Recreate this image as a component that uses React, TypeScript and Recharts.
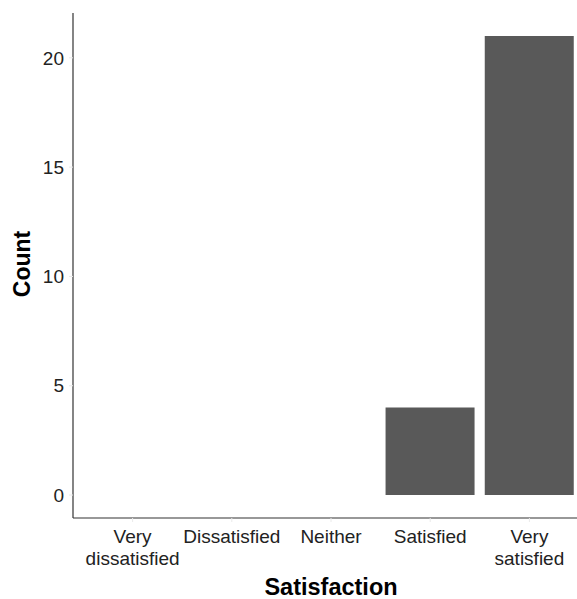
import { BarChart, Bar, XAxis, YAxis, Label } from "recharts";

const categories = [
  "Very dissatisfied",
  "Dissatisfied",
  "Neither",
  "Satisfied",
  "Very satisfied",
];
const counts = [0, 0, 0, 4, 21];
const yTicks = [0, 5, 10, 15, 20];

const data = categories.map((c, i) => ({ name: c, count: counts[i] }));

const FONT = '"Liberation Sans", Arial, sans-serif';

// ggplot-style wrapped tick labels: "Very ..." goes on two lines
function XTick(props: any) {
  const { x, y, payload } = props;
  const v: string = payload.value;
  const lines = v.startsWith("Very ") ? ["Very", v.slice(5)] : [v];
  return (
    <text
      x={x}
      y={y}
      textAnchor="middle"
      fontFamily={FONT}
      fontSize={19}
      fill="#222"
    >
      {lines.map((l, i) => (
        <tspan key={i} x={x} dy={i === 0 ? 19 : 22}>
          {l}
        </tspan>
      ))}
    </text>
  );
}

export default function App() {
  return (
    <div
      style={{
        position: "absolute",
        left: 0,
        top: 0,
        width: 577,
        height: 599,
        overflow: "hidden",
        background: "#fff",
      }}
    >
      <BarChart
        width={600}
        height={599}
        data={data}
        margin={{ top: 13, right: 11, bottom: 0, left: 0 }}
        barCategoryGap="5%"
      >
        <XAxis
          dataKey="name"
          height={81}
          padding={{ left: 10, right: 10 }}
          axisLine={{ stroke: "#333", strokeWidth: 1.2 }}
          tickLine={{ stroke: "#eaeaea" }}
          tickSize={4}
          tickMargin={2}
          interval={0}
          tick={<XTick />}
        >
          <Label
            content={({ viewBox }: any) => (
              <text
                x={viewBox.x + viewBox.width / 2}
                y={595}
                textAnchor="middle"
                fontFamily={FONT}
                fontSize={23.5}
                fontWeight="bold"
                fill="#000"
              >
                Satisfaction
              </text>
            )}
          />
        </XAxis>
        <YAxis
          width={73}
          domain={[-1.05, 22.05]}
          allowDataOverflow
          ticks={yTicks}
          axisLine={{ stroke: "#333", strokeWidth: 1.2 }}
          tickLine={{ stroke: "#eaeaea" }}
          tickSize={4}
          tickMargin={5}
          tick={{ fontFamily: FONT, fontSize: 19, fill: "#222" }}
        >
          <Label
            content={() => (
              <text
                x={22}
                y={264}
                transform="rotate(-90 22 264)"
                textAnchor="middle"
                dominantBaseline="central"
                fontFamily={FONT}
                fontSize={23}
                fontWeight="bold"
                fill="#000"
              >
                Count
              </text>
            )}
          />
        </YAxis>
        <Bar dataKey="count" fill="#595959" isAnimationActive={false} />
      </BarChart>
    </div>
  );
}
